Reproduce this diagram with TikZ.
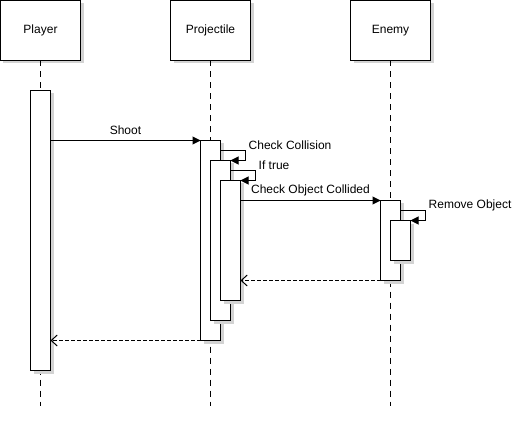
\documentclass[tikz,border=0pt]{standalone}
\usepackage{fontspec}
\setmainfont{Liberation Sans}
\usetikzlibrary{arrows.meta,shadows}
\definecolor{shadowgray}{RGB}{211,211,211}
\begin{document}
\begin{tikzpicture}[x=1pt,y=-1pt,
  every node/.style={font=\fontsize{12pt}{14pt}\selectfont},
  boxshadow/.style={drop shadow={shadow xshift=3pt,shadow yshift=-3pt,fill=shadowgray,opacity=1}},
  headbox/.style={draw,fill=white,line width=1pt,minimum width=80pt,minimum height=60pt,inner sep=0pt,outer sep=0pt,boxshadow},
  actbox/.style={draw,fill=white,line width=1pt,minimum width=20pt,inner sep=0pt,outer sep=0pt,boxshadow},
  lifeline/.style={line width=1pt,dash pattern=on 6pt off 5pt},
  msg/.style={line width=1pt,-{Triangle[length=8pt,width=8pt]}},
  ret/.style={line width=1pt,dash pattern=on 4pt off 2pt,-{Straight Barb[length=6pt,width=11pt]}},
  lbl/.style={inner sep=0pt}]
\useasboundingbox (-0.5,-0.5) rectangle (516.5,424.5);
% heads
\node[headbox] (pl) at (40,30) {Player};
\node[headbox] (pj) at (210,30) {Projectile};
\node[headbox] (en) at (390,30) {Enemy};
% lifelines
\coordinate (plend) at (40,405);
\coordinate (pjend) at (210,405);
\coordinate (enend) at (390,405);
\draw[lifeline] (pl.south) -- (plend);
\draw[lifeline] (pj.south) -- (pjend);
\draw[lifeline] (en.south) -- (enend);
% activations
\node[actbox,minimum height=280pt] (pa) at (40,230) {};
\node[actbox,minimum height=200pt] (j1) at (210,240) {};
\node[actbox,minimum height=160pt] (j2) at (220,240) {};
\node[actbox,minimum height=120pt] (j3) at (230,240) {};
\node[actbox,minimum height=80pt] (e1) at (390,240) {};
\node[actbox,minimum height=40pt] (e2) at (400,240) {};
% messages
\draw[msg] (pa.east |- j1.north west) -- (j1.north west);
\node[lbl] (shoot) at (125,130) {Shoot};
\draw[msg] ([yshift=-10pt]j1.north east) -- ++(25,0) |- (j2.north east);
\node[lbl,anchor=west] (cc) at (248,145) {Check Collision};
\draw[msg] ([yshift=-10pt]j2.north east) -- ++(25,0) |- (j3.north east);
\node[lbl,anchor=west] (it) at (258,165) {If true};
\draw[msg] (j3.east |- e1.north west) -- (e1.north west);
\node[lbl] (coc) at (310,190) {Check Object Collided};
\draw[msg] ([yshift=-10pt]e1.north east) -- ++(25,0) |- (e2.north east);
\node[lbl,anchor=west] (ro) at (428,205) {Remove Object};
% returns
\draw[ret] (e1.south west) -- (j3.east |- e1.south west);
\draw[ret] (j1.south west) -- (pa.east |- j1.south west);
\end{tikzpicture}
\end{document}
